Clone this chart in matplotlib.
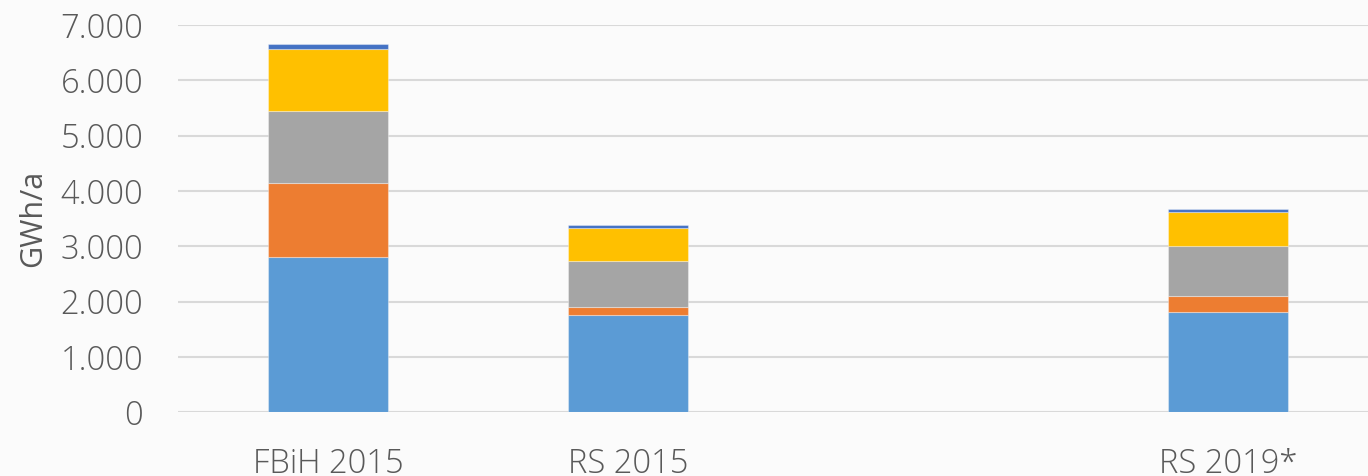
import numpy as np
import matplotlib.pyplot as plt

categories = ["FBiH 2015", "RS 2015", "", "RS 2019*"]
blue = [2800, 1750, 0, 1810]
orange = [1350, 160, 0, 290]
gray = [1300, 825, 0, 905]
yellow = [1110, 590, 0, 615]
darkblue = [100, 60, 0, 60]
yticks = [0, 1000, 2000, 3000, 4000, 5000, 6000, 7000]
ytick_labels = ["0", "1.000", "2.000", "3.000", "4.000", "5.000", "6.000", "7.000"]

plt.rcParams['font.family'] = ['Open Sans', 'DejaVu Sans']
plt.rcParams['font.weight'] = 'light'

fig = plt.figure(figsize=(13.68, 4.76), dpi=100)
fig.patch.set_facecolor("#fbfbfb")
ax = fig.add_axes([178/1368, 63.7/476, 1200/1368, 387.3/476])
ax.set_facecolor("none")

x = np.arange(len(categories))
series = [blue, orange, gray, yellow, darkblue]
colors = ["#5b9bd5", "#ed7d31", "#a5a5a5", "#ffc000", "#4472c4"]
bottom = np.zeros(len(categories))
for vals, c in zip(series, colors):
    v = np.array(vals, dtype=float)
    ax.bar(x, v, 0.4, bottom=bottom, color=c, edgecolor=(1, 1, 1, 0.35), linewidth=0.8, zorder=3)
    bottom += v

ax.set_xlim(-0.5, 3.5)
ax.set_ylim(0, 7000)
ax.set_yticks(yticks)
ax.set_yticklabels(ytick_labels)
ax.set_xticks(x)
ax.set_xticklabels(categories)
ax.yaxis.grid(True, color="#d9d9d9", linewidth=1.5, zorder=0)
ax.tick_params(axis="y", length=0, pad=25, labelsize=23.5, labelcolor="#595959")
ax.tick_params(axis="x", length=0, pad=25, labelsize=23.5, labelcolor="#595959")
for s in ax.spines.values():
    s.set_visible(False)
ax.set_ylabel("GWh/a", fontsize=22, color="#595959", labelpad=9)

fig.savefig("out.png", dpi=100, facecolor=fig.get_facecolor())
